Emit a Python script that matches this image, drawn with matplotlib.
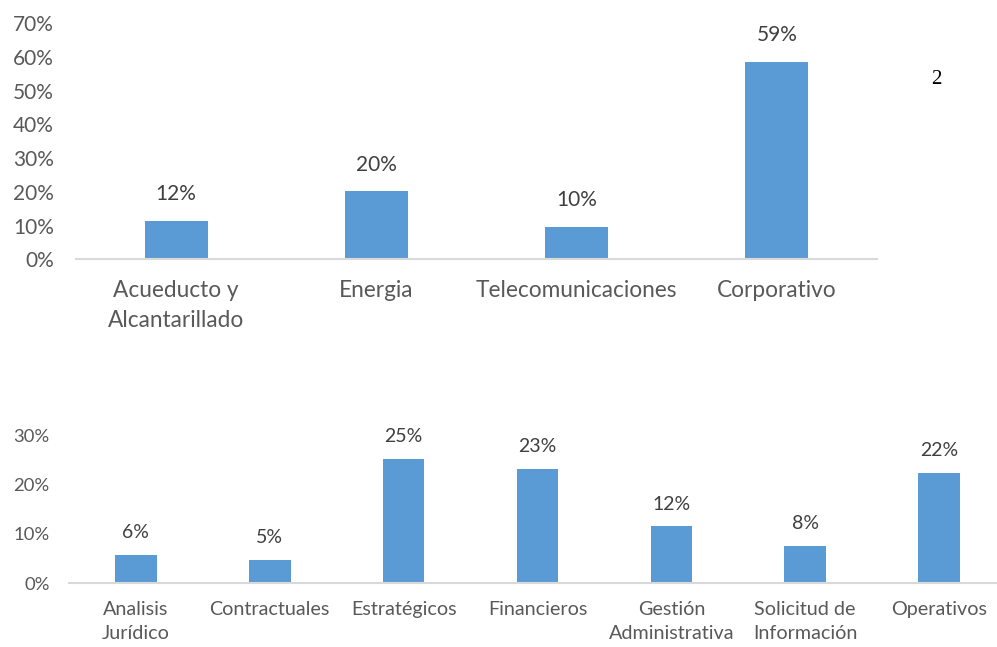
import matplotlib
matplotlib.use("Agg")
import matplotlib.pyplot as plt
from matplotlib.ticker import FuncFormatter

# Data
top_categories = ["Acueducto y\nAlcantarillado", "Energia", "Telecomunicaciones", "Corporativo"]
top_values = [11.5, 20.2, 9.6, 58.6]
top_labels = ["12%", "20%", "10%", "59%"]
top_yticks = [0, 10, 20, 30, 40, 50, 60, 70]

bot_categories = ["Analisis\nJurídico", "Contractuales", "Estratégicos", "Financieros",
                  "Gestión\nAdministrativa", "Solicitud de\nInformación", "Operativos"]
bot_values = [5.7, 4.7, 25.1, 23.2, 11.5, 7.6, 22.3]
bot_labels = ["6%", "5%", "25%", "23%", "12%", "8%", "22%"]
bot_yticks = [0, 10, 20, 30]

W, H = 997, 647
FONT = "Lato"
GRAY = "#595959"
BAR = "#5b9bd5"
AX = "#d9d9d9"

fig = plt.figure(figsize=(W / 100, H / 100), dpi=100)

def make_axes(left, right, top, bottom):
    return fig.add_axes([left / W, 1 - bottom / H, (right - left) / W, (bottom - top) / H])

def style(ax, cats, vals, labels, yticks, tick_fs, cat_fs, lab_fs, width, tpad, cpad, loff, ls):
    x = range(len(cats))
    ax.bar(x, vals, width=width, color=BAR, zorder=2)
    ax.set_xlim(-0.5, len(cats) - 0.5)
    ax.set_ylim(0, yticks[-1])
    ax.set_yticks(yticks)
    ax.yaxis.set_major_formatter(FuncFormatter(lambda v, p: f"{v:.0f}%"))
    ax.set_xticks(list(x))
    ax.set_xticklabels(cats, fontfamily=FONT, fontsize=cat_fs, color=GRAY, linespacing=ls)
    for t in ax.get_yticklabels():
        t.set_fontfamily(FONT)
        t.set_fontsize(tick_fs)
        t.set_color(GRAY)
    ax.tick_params(axis="both", length=0)
    ax.tick_params(axis="y", pad=tpad)
    ax.tick_params(axis="x", pad=cpad)
    for s in ["top", "right", "left"]:
        ax.spines[s].set_visible(False)
    ax.spines["bottom"].set_color(AX)
    ax.spines["bottom"].set_linewidth(1.5)
    ax.patch.set_alpha(0)
    for xi, v, lab in zip(x, vals, labels):
        ax.annotate(lab, (xi, v), xytext=(0, loff), textcoords="offset points",
                    ha="center", va="bottom", fontfamily=FONT, fontsize=lab_fs, color="#404040")

ax1 = make_axes(76, 877, 23.3, 259.3)
style(ax1, top_categories, top_values, top_labels, top_yticks,
      tick_fs=15, cat_fs=16.3, lab_fs=15, width=0.315, tpad=16, cpad=15, loff=12, ls=1.55)

ax2 = make_axes(69, 1006, 435, 583.3)
style(ax2, bot_categories, bot_values, bot_labels, bot_yticks,
      tick_fs=13.3, cat_fs=14.2, lab_fs=14, width=0.31, tpad=14, cpad=13, loff=10, ls=1.5)

fig.text(936 / W, 1 - 80 / H, "2", fontfamily="Liberation Serif", fontsize=15,
         ha="center", va="center", color="black")

fig.savefig("out.png", dpi=100, facecolor="white")
